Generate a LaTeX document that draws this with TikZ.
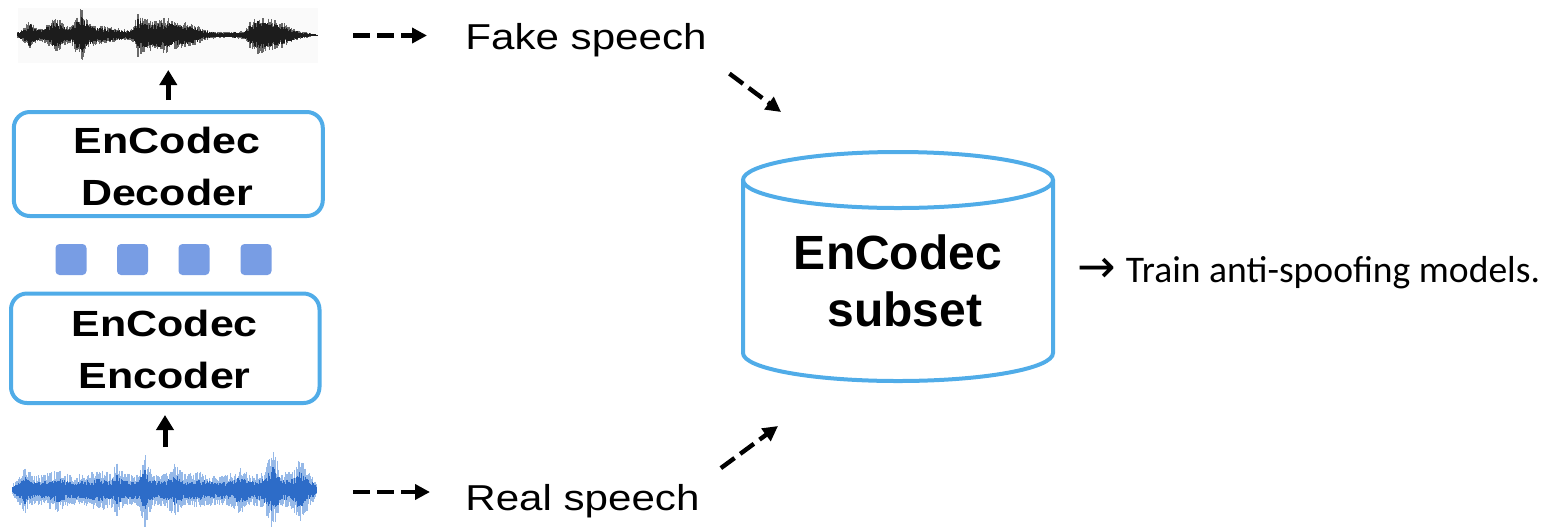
\documentclass[tikz,border=0pt]{standalone}
\usepackage{fontspec}
\usepackage{graphicx}
\setmainfont{Liberation Sans}
\newfontfamily\calibfont{Carlito}
\newfontfamily\symfont{DejaVu Sans}
\usetikzlibrary{arrows.meta}

\definecolor{boxblue}{RGB}{80,172,232}
\definecolor{tokblue}{RGB}{120,157,228}
\definecolor{wavebg}{RGB}{250,250,250}
\definecolor{fakedark}{RGB}{28,28,28}
\definecolor{fakelight}{RGB}{105,105,105}
\definecolor{realdark}{RGB}{45,108,200}
\definecolor{reallight}{RGB}{150,185,232}

% horizontally stretched text
\newcommand\widetext[2]{\scalebox{#1}[1]{#2}}

% waveform: #1 centre line, #2 colour, #3 amplitude factor, #4 macro holding envelope segments x0/a0/x1/a1
\newcommand\drawwave[4]{%
  \foreach \xa/\aa/\xb/\ab in #4 {
    \pgfmathtruncatemacro\nsteps{(\xb-\xa)/0.7}
    \foreach \k in {0,...,\nsteps} {
      \pgfmathsetmacro\px{\xa+\k*0.7}
      \pgfmathsetmacro\amp{#3*(\aa+(\ab-\aa)*\k/max(\nsteps,1))}
      \pgfmathsetmacro\up{\amp*(0.45+0.55*rnd)}
      \pgfmathsetmacro\dn{\amp*(0.45+0.55*rnd)}
      \draw[#2, line width=0.6pt] (\px,#1-\up) -- (\px,#1+\dn);
    }
  }
}

\newcommand\fakeenv{18/3/25/8, 25/8/30/15, 30/15/35/8, 35/8/42/6, 42/6/50/12, 50/12/55/17, 55/17/62/12, 62/12/70/8, 70/8/78/18, 78/18/82/25, 82/25/88/12, 88/12/95/10, 95/10/105/8, 105/8/115/7, 115/7/125/5, 125/5/133/6, 133/6/138/20, 138/20/145/15, 145/15/155/14, 155/14/165/17, 165/17/175/13, 175/13/185/12, 185/12/195/10, 195/10/205/5, 205/5/215/3, 215/3/230/3, 230/3/245/4, 245/4/250/12, 250/12/258/18, 258/18/270/15, 270/15/282/12, 282/12/292/7, 292/7/300/4, 300/4/310/2, 310/2/318/0}
\newcommand\realenv{13/5/20/12, 20/12/25/20, 25/20/32/12, 32/12/45/13, 45/13/58/18, 58/18/70/12, 70/12/85/13, 85/13/100/17, 100/17/110/14, 110/14/117/22, 117/22/125/13, 125/13/138/14, 138/14/145/30, 145/30/152/14, 152/14/165/13, 165/13/175/22, 175/22/185/13, 185/13/200/15, 200/15/215/12, 215/12/230/13, 230/13/240/20, 240/20/250/13, 250/13/262/14, 262/14/273/33, 273/33/282/14, 282/14/292/16, 292/16/300/28, 300/28/308/16, 308/16/317/6}

\tikzset{
  blockbox/.style={draw=boxblue, line width=2pt, rounded corners=8pt, inner sep=0pt},
  blocktext/.style={font=\bfseries\fontsize{18.2}{26}\selectfont, align=center, inner sep=0pt},
  token/.style={fill=tokblue, rounded corners=2pt, minimum size=15.5pt, inner sep=0pt},
  labeltext/.style={inner sep=0pt, font=\fontsize{18}{21.6}\selectfont},
  flowarrow/.style={line width=2.5pt, -{Triangle[length=7.5pt,width=8.5pt]}},
  dasharrow/.style={line width=2.2pt, dash pattern=on 8.5pt off 3.5pt, -{Triangle[length=7.5pt,width=7.5pt]}},
  dbline/.style={draw=boxblue, line width=2pt},
}

\begin{document}
\begin{tikzpicture}[x=0.5pt, y=-0.5pt]
\useasboundingbox (0,0) rectangle (1545,526);

% generated speech waveform
\node[fill=wavebg, minimum width=150pt, minimum height=27.5pt, inner sep=0pt, outer sep=0pt] (fakewav) at (168,35.5) {};
\pgfmathsetseed{11}
\drawwave{35}{fakelight}{1.1}{\fakeenv}
\drawwave{35}{fakedark}{0.8}{\fakeenv}

% natural speech waveform
\node[minimum width=152pt, minimum height=45pt, inner sep=0pt, outer sep=0pt] (realwav) at (165,492) {};
\pgfmathsetseed{23}
\drawwave{490}{reallight}{1.25}{\realenv}
\drawwave{490}{realdark}{0.7}{\realenv}

% codec blocks
\node[blockbox, minimum width=154.5pt, minimum height=52pt] (dec) at (168.3,164) {};
\node[blocktext] (dectext) at (167,166.8) {\widetext{1.18}{EnCodec}\\\widetext{1.18}{Decoder}};
\node[blockbox, minimum width=154.25pt, minimum height=54.75pt] (enc) at (165.25,348.25) {};
\node[blocktext] (enctext) at (164.7,349.5) {\widetext{1.18}{EnCodec}\\\widetext{1.18}{Encoder}};

% discrete codes
\node[token] (q1) at (71,259.5) {};
\node[token] (q2) at (132.5,259.5) {};
\node[token] (q3) at (194,259.5) {};
\node[token] (q4) at (256,259.5) {};

% labels
\node[labeltext, anchor=base west] (fake) at (465,49) {\widetext{1.17}{Fake speech}};
\node[labeltext, anchor=base west] (real) at (465,510) {\widetext{1.17}{Real speech}};

% dataset cylinder
\draw[dbline] (743,180) -- (743,353) arc[start angle=180, end angle=0, x radius=155, y radius=28] -- (1053,180);
\draw[dbline] (898,180) ellipse[x radius=155, y radius=28];
\node[font=\bfseries\fontsize{24}{28.5}\selectfont, align=center, inner sep=0pt] (db) at (898,280.8) {EnCodec\\\hspace*{6.7pt}subset};

\node[anchor=base west, inner sep=0pt, font=\calibfont\fontsize{18.8}{22}\selectfont] (train) at (1077,282)
  {{\symfont\fontsize{23}{26}\selectfont →}\hspace{5pt}Train anti-spoofing models.};

% connectors
\draw[flowarrow, shorten <=5pt, shorten >=3.5pt] (dec.north) -- (dec.north |- fakewav.south);
\draw[flowarrow, shorten >=5pt] (realwav.north) -- (realwav.north |- enc.south);
\draw[dasharrow, shorten <=17.5pt, shorten >=19pt] (fakewav.east) -- (fakewav.east -| fake.west);
\draw[dasharrow, shorten <=18pt, shorten >=17.5pt] (realwav.east) -- (realwav.east -| real.west);
\coordinate (topin) at (781,112);
\coordinate (botin) at (778,426);
\draw[dasharrow, shorten <=14pt] (fake.south east) -- (topin);
\draw[dasharrow, shorten <=13pt] (real.north east) -- (botin);
\end{tikzpicture}
\end{document}
